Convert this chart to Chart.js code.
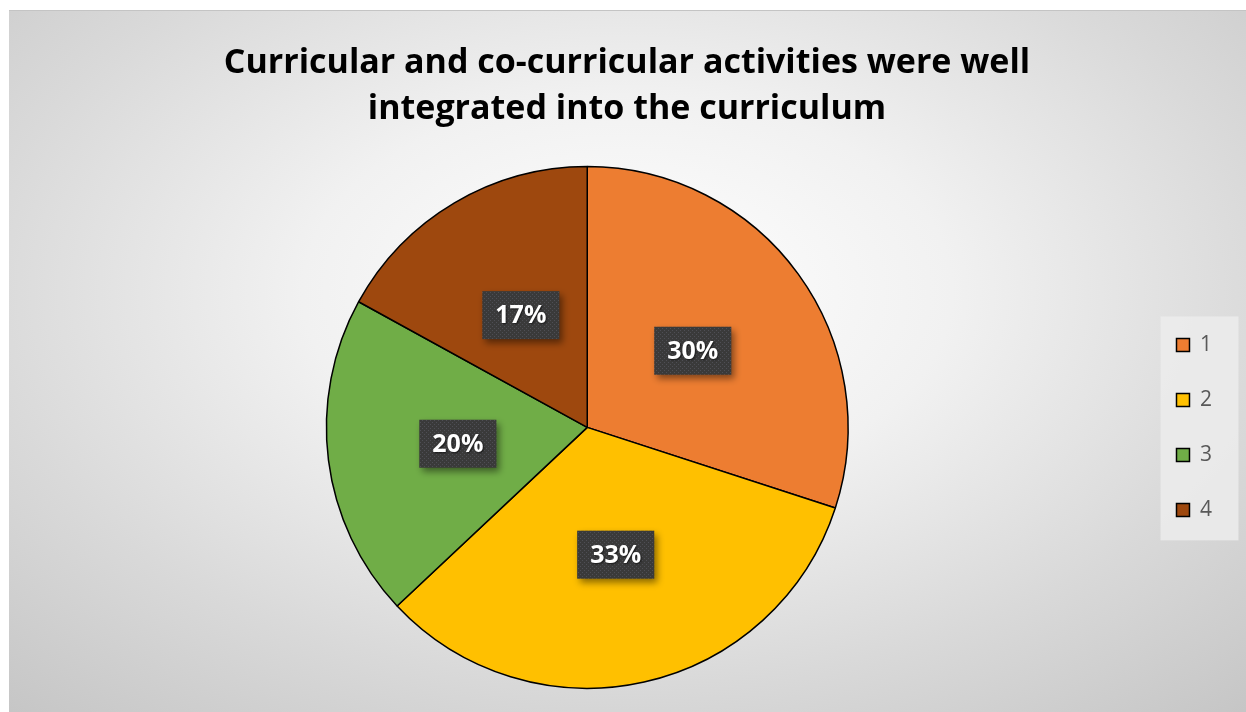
<!DOCTYPE html>
<html lang="en">
<head>
    <meta charset="UTF-8">
    <title>Curricular and co-curricular activities</title>
    <style>
        body {
            margin: 0;
            background: #ffffff;
            width: 1246px;
            height: 712px;
            overflow: hidden;
        }
        .frame {
            position: absolute;
            left: 9px;
            top: 10px;
            width: 1237px;
            height: 702px;
            background: radial-gradient(ellipse 75% 80% at 50% 40%, #ffffff 0%, #f1f1f1 35%, #d9d9d9 70%, #c6c6c6 100%);
            border-top: 1px solid #c4c4c4;
            box-sizing: border-box;
        }
    </style>
</head>
<body>

<div class="frame">
    <canvas id="pieChart"></canvas>
</div>

<script src="https://cdn.jsdelivr.net/npm/chart.js@4.4.1/dist/chart.umd.min.js"></script>
<script>
    // data
    const categories = ['1', '2', '3', '4'];
    const shares = [30, 33, 20, 17];
    const sliceColors = ['#ED7D31', '#FFC000', '#70AD47', '#9E480E'];
    const titleLines = ['Curricular and co-curricular activities were well', 'integrated into the curriculum'];

    // dotted dark fill for the data labels
    function makeDots() {
        const c = document.createElement('canvas');
        c.width = 4; c.height = 4;
        const g = c.getContext('2d');
        g.fillStyle = '#3a3a3a';
        g.fillRect(0, 0, 4, 4);
        g.fillStyle = '#4f4f55';
        g.fillRect(1, 1, 1, 1);
        g.fillRect(3, 3, 1, 1);
        return c;
    }

    // light box behind the legend
    const legendBackground = {
        id: 'legendBackground',
        beforeDraw(chart) {
            const boxes = chart.legend && chart.legend.legendHitBoxes;
            if (!boxes || !boxes.length) return;
            const top = Math.min(...boxes.map(b => b.top));
            const bottom = Math.max(...boxes.map(b => b.top + b.height));
            const left = boxes[0].left;
            const ctx = chart.ctx;
            ctx.save();
            ctx.fillStyle = 'rgba(236, 236, 236, 0.85)';
            ctx.fillRect(left - 16, top - 18, 78, bottom - top + 38);
            ctx.restore();
        }
    };

    // "30%" style labels in dark boxes
    const sliceLabels = {
        id: 'sliceLabels',
        afterDatasetsDraw(chart) {
            const ctx = chart.ctx;
            const meta = chart.getDatasetMeta(0);
            const pattern = ctx.createPattern(makeDots(), 'repeat');
            ctx.save();
            ctx.font = 'bold 25px "Open Sans", sans-serif';
            ctx.textAlign = 'center';
            ctx.textBaseline = 'middle';
            meta.data.forEach((arc, i) => {
                const pos = arc.tooltipPosition();
                const text = shares[i] + '%';
                const w = ctx.measureText(text).width + 26;
                const h = 48;
                ctx.save();
                ctx.shadowColor = 'rgba(0, 0, 0, 0.45)';
                ctx.shadowBlur = 7;
                ctx.shadowOffsetX = 3;
                ctx.shadowOffsetY = 4;
                ctx.fillStyle = pattern;
                ctx.fillRect(pos.x - w / 2, pos.y - h / 2, w, h);
                ctx.restore();
                ctx.save();
                ctx.shadowColor = 'rgba(0, 0, 0, 0.6)';
                ctx.shadowBlur = 2;
                ctx.shadowOffsetX = 1;
                ctx.shadowOffsetY = 1;
                ctx.fillStyle = '#ffffff';
                ctx.fillText(text, pos.x, pos.y + 1);
                ctx.restore();
            });
            ctx.restore();
        }
    };

    const ctx = document.getElementById('pieChart').getContext('2d');
    const pieChart = new Chart(ctx, {
        type: 'pie',
        data: {
            labels: categories,
            datasets: [{
                data: shares,
                backgroundColor: sliceColors,
                borderColor: '#000000',
                borderWidth: 1.5,
                hoverOffset: 0
            }]
        },
        options: {
            responsive: true,
            maintainAspectRatio: false,
            animation: false,
            events: [],
            layout: {
                padding: { left: 23, right: 24, top: 0, bottom: 23 }
            },
            plugins: {
                title: {
                    display: true,
                    text: titleLines,
                    color: '#000000',
                    font: { family: '"Open Sans", sans-serif', size: 34, weight: 'bold', lineHeight: 1.35 },
                    padding: { top: 29, bottom: 34 }
                },
                legend: {
                    position: 'right',
                    fullSize: false,
                    labels: {
                        boxWidth: 13,
                        boxHeight: 13,
                        padding: 34,
                        color: '#595959',
                        font: { family: '"Open Sans", sans-serif', size: 21 }
                    }
                },
                tooltip: { enabled: false }
            }
        },
        plugins: [legendBackground, sliceLabels]
    });
</script>

</body>
</html>
